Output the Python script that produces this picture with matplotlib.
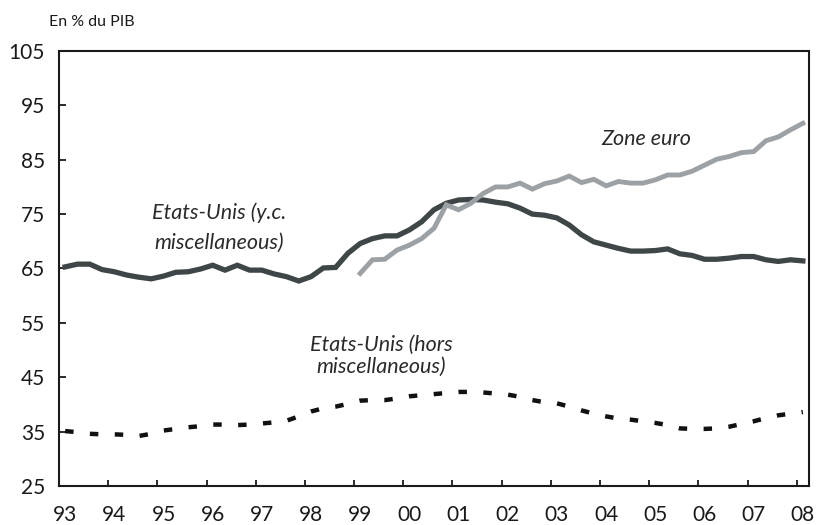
import matplotlib
matplotlib.use("Agg")
import matplotlib.pyplot as plt
import numpy as np

plt.rcParams['font.family'] = ['Lato', 'DejaVu Sans']

# Quarterly data, 1993Q1 .. 2008Q1 (61 quarters)
year_labels = ["93", "94", "95", "96", "97", "98", "99", "00",
               "01", "02", "03", "04", "05", "06", "07", "08"]

us_incl_misc = [65.3, 65.8, 65.8, 64.8, 64.4, 63.8, 63.4, 63.1, 63.6, 64.3,
                64.4, 64.9, 65.6, 64.7, 65.6, 64.7, 64.7, 64.0, 63.5, 62.7,
                63.5, 65.1, 65.2, 67.8, 69.6, 70.5, 71.0, 71.0, 72.1, 73.6,
                75.8, 77.0, 77.6, 77.7, 77.6, 77.2, 76.9, 76.1, 75.0, 74.8,
                74.3, 73.0, 71.2, 69.9, 69.3, 68.7, 68.2, 68.2, 68.3, 68.6,
                67.7, 67.4, 66.7, 66.7, 66.9, 67.2, 67.2, 66.6, 66.3, 66.6,
                66.4]

# Euro area starts in 1999Q1
euro_start = 24
zone_euro = [64.1, 66.6, 66.7, 68.4, 69.3, 70.5, 72.4, 76.7, 75.8, 77.0,
             78.8, 80.0, 80.0, 80.7, 79.6, 80.6, 81.1, 82.0, 80.8, 81.4,
             80.2, 81.0, 80.7, 80.7, 81.3, 82.2, 82.2, 82.9, 84.0, 85.1,
             85.6, 86.3, 86.5, 88.5, 89.2, 90.5, 91.7]

us_excl_misc = [35.1, 34.9, 34.6, 34.5, 34.5, 34.4, 34.2, 34.6, 35.2, 35.5,
                35.8, 36.0, 36.3, 36.3, 36.2, 36.3, 36.5, 36.7, 37.0, 37.8,
                38.7, 39.3, 39.6, 40.1, 40.7, 40.8, 40.8, 41.1, 41.5, 41.7,
                41.9, 42.1, 42.3, 42.3, 42.2, 42.0, 41.8, 41.4, 40.8, 40.4,
                40.2, 39.6, 38.9, 38.3, 37.8, 37.4, 37.2, 36.9, 36.6, 36.2,
                35.6, 35.5, 35.5, 35.6, 35.9, 36.4, 36.9, 37.5, 38.0, 38.3,
                38.6]

y_ticks = [25, 35, 45, 55, 65, 75, 85, 95, 105]

n = len(us_incl_misc)
x = np.arange(n)
x_euro = np.arange(euro_start, euro_start + len(zone_euro))

fig = plt.figure(figsize=(8.18, 5.25), dpi=100)
ax = fig.add_axes([59/818, 39/525, 750/818, 435/525])

dark = '#3f4647'
grey = '#9ca1a5'
txt = '#2a2a2a'

ax.plot(x, us_excl_misc, color='#111111', lw=3.2, linestyle=(0, (1.9, 3.7)),
        dash_capstyle='butt', solid_capstyle='butt')
ax.plot(x, us_incl_misc, color=dark, lw=3.8, solid_joinstyle='miter')
ax.plot(x_euro, zone_euro, color=grey, lw=3.5, solid_joinstyle='miter')

ax.set_xlim(-0.5, n - 0.5)
ax.set_ylim(25, 105)

ax.set_yticks(y_ticks)
ax.set_yticklabels([str(v) for v in y_ticks])
ax.set_xticks(np.arange(0, n, 4))
ax.set_xticklabels(year_labels)
ax.set_xticks(np.arange(3.5, n - 1, 4), minor=True)

for s in ax.spines.values():
    s.set_linewidth(1.5)
    s.set_color('#1a1a1a')

ax.tick_params(axis='y', direction='in', length=5, width=1.3, pad=10,
               labelsize=15, colors='#1a1a1a')
ax.tick_params(axis='x', which='major', length=0, pad=14, labelsize=15,
               colors='#1a1a1a')
ax.tick_params(axis='x', which='minor', direction='in', length=4.5, width=1.3,
               colors='#1a1a1a')

fig.text(49/818, 1 - 22/525, "En % du PIB", fontsize=11.5, ha='left',
         va='center', color='#1a1a1a')

fs = 15.5
ax.text(12.5, 75.2, "Etats-Unis (y.c.", fontsize=fs, style='italic',
        ha='center', va='center', color=txt)
ax.text(12.5, 69.7, "miscellaneous)", fontsize=fs, style='italic',
        ha='center', va='center', color=txt)
ax.text(47.3, 88.8, "Zone euro", fontsize=fs, style='italic', ha='center',
        va='center', color=txt)
ax.text(25.7, 50.9, "Etats-Unis (hors", fontsize=fs, style='italic',
        ha='center', va='center', color=txt)
ax.text(25.7, 46.9, "miscellaneous)", fontsize=fs, style='italic',
        ha='center', va='center', color=txt)

fig.savefig("out.png", dpi=100)
